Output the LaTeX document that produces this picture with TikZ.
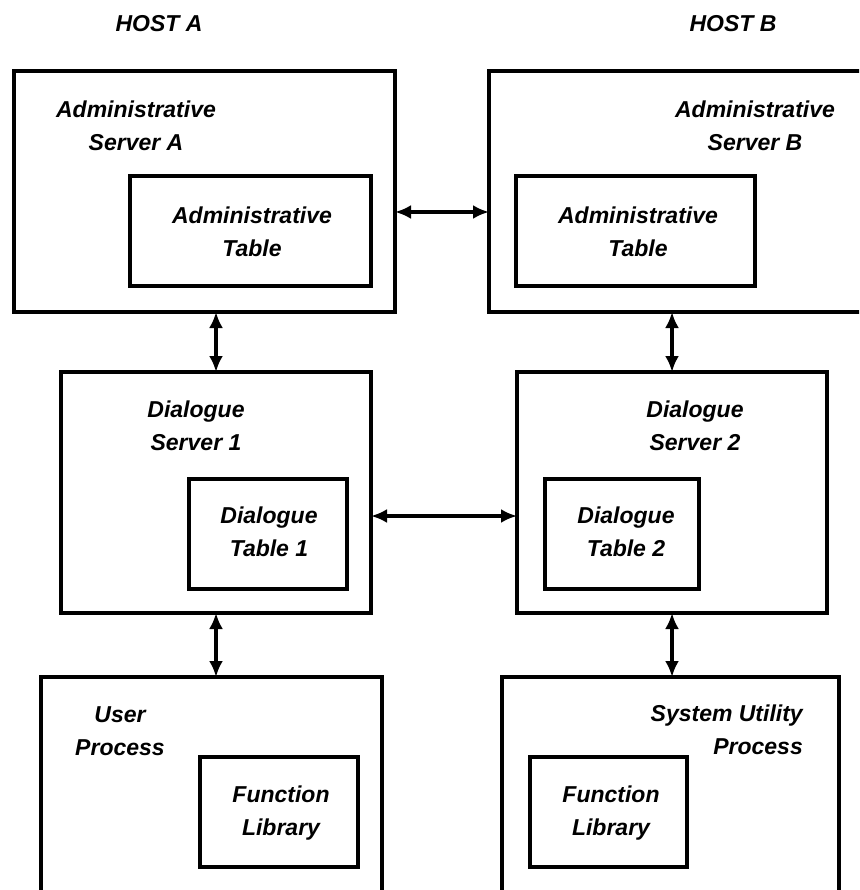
\documentclass[tikz,border=0pt]{standalone}
\usepackage{fontspec}
\setmainfont{Liberation Sans}
\usetikzlibrary{arrows.meta}
\begin{document}
\begin{tikzpicture}[x=1pt,y=-1pt,
  box/.style={draw, line width=3.4pt, inner sep=0pt, outer sep=0pt, anchor=north west},
  lbl/.style={font=\bfseries\itshape\fontsize{23}{33}\selectfont, align=center, inner sep=0pt},
  link/.style={line width=3.2pt, {Latex[length=16pt,width=14pt]}-{Latex[length=16pt,width=14pt]}}]
\useasboundingbox (0,0) rectangle (859,890);
\clip (0,0) rectangle (859,890);

% host titles
\node[lbl] (hosta) at (159,24) {HOST A};
\node[lbl] (hostb) at (733,24) {HOST B};

% administrative servers
\node[box, minimum width=381pt, minimum height=241pt] (asa) at (14,71) {};
\node[box, minimum width=241pt, minimum height=110pt] (ata) at (130,176) {};
\node[box, minimum width=400pt, minimum height=241pt] (asb) at (489,71) {};
\node[box, minimum width=239pt, minimum height=110pt] (atb) at (516,176) {};
\node[lbl] (asatxt) at (136,126) {Administrative\\Server A};
\node[lbl] (atatxt) at (252,232) {Administrative\\Table};
\node[lbl] (asbtxt) at (755,126) {Administrative\\Server B};
\node[lbl] (atbtxt) at (638,232) {Administrative\\Table};

% dialogue servers
\node[box, minimum width=310pt, minimum height=241pt] (ds1) at (61,372) {};
\node[box, minimum width=158pt, minimum height=110pt] (dt1) at (189,479) {};
\node[box, minimum width=310pt, minimum height=241pt] (ds2) at (517,372) {};
\node[box, minimum width=154pt, minimum height=110pt] (dt2) at (545,479) {};
\node[lbl] (ds1txt) at (196,426) {Dialogue\\Server 1};
\node[lbl] (dt1txt) at (269,532) {Dialogue\\Table 1};
\node[lbl] (ds2txt) at (695,426) {Dialogue\\Server 2};
\node[lbl] (dt2txt) at (626,532) {Dialogue\\Table 2};

% processes
\node[box, minimum width=341pt, minimum height=230pt] (up) at (41,677) {};
\node[box, minimum width=158pt, minimum height=110pt] (fla) at (200,757) {};
\node[box, minimum width=337pt, minimum height=230pt] (sup) at (502,677) {};
\node[box, minimum width=157pt, minimum height=110pt] (flb) at (530,757) {};
\node[lbl] (uptxt) at (120,731) {User\\Process};
\node[lbl] (flatxt) at (281,813) {Function\\Library};
\node[lbl, align=right, anchor=east] (suptxt) at (803,730) {System Utility\\Process};
\node[lbl] (flbtxt) at (611,813) {Function\\Library};

% connectors
\coordinate (admlvl) at (0,212);
\coordinate (dlglvl) at (0,516);
\draw[link] (asa.east |- admlvl) -- (asb.west |- admlvl);
\draw[link] (ds1.east |- dlglvl) -- (ds2.west |- dlglvl);
\draw[link] (ds1.north |- asa.south) -- (ds1.north);
\draw[link] (ds2.north |- asb.south) -- (ds2.north);
\draw[link] (ds1.south) -- (ds1.south |- up.north);
\draw[link] (ds2.south) -- (ds2.south |- sup.north);
\end{tikzpicture}
\end{document}
